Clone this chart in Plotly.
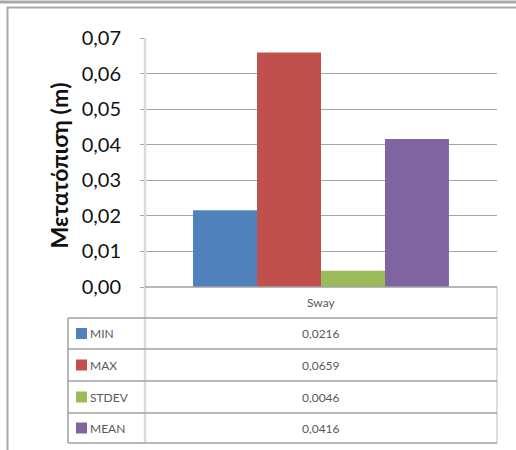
import plotly.graph_objects as go

categories = ["Sway"]
series_names = ["MIN", "MAX", "STDEV", "MEAN"]
series_values = [0.0216, 0.0659, 0.0046, 0.0416]
series_colors = ["#4F81BD", "#C0504D", "#9BBB59", "#8064A2"]
tick_vals = [0.00, 0.01, 0.02, 0.03, 0.04, 0.05, 0.06, 0.07]
tick_text = ["0,00", "0,01", "0,02", "0,03", "0,04", "0,05", "0,06", "0,07"]
y_title = "Μετατόπιση (m)"

W, H = 516, 450
L, R, T, B = 145, 497, 38, 287  # plot area pixels

fig = go.Figure()
for name, val, col in zip(series_names, series_values, series_colors):
    fig.add_trace(go.Bar(x=categories, y=[val], name=name, marker=dict(color=col, line=dict(width=0)),
                         showlegend=False, cliponaxis=False))

# convert figure pixel positions to paper (plot-area) coordinates
def px(x):
    return (x - L) / (R - L)

def py(y):
    return (B - y) / (B - T)

shapes = []
def line(x0, y0, x1, y1, color, width):
    shapes.append(dict(type="line", xref="paper", yref="paper",
                       x0=px(x0), y0=py(y0), x1=px(x1), y1=py(y1),
                       line=dict(color=color, width=width), layer="above"))

# outer page borders
line(0, 2, W, 2, "#A8A8A8", 3)
line(7, 7.5, W, 7.5, "#A8A8A8", 2)
line(7.5, 7, 7.5, H, "#A8A8A8", 2)

# table geometry
row_tops = [287, 318, 349, 381, 413, 443]
tab_left = 68
line(R, 287, R, 443, "#D0D0D0", 1.5)
line(L, T, L, 443, "#D9D9D9", 2.5)
for yy in row_tops[1:]:
    line(tab_left, yy, R, yy, "#A0A0A0", 1.5)
line(tab_left, 318, tab_left, 443, "#A0A0A0", 1.5)
line(L, B, R, B, "#A0A0A0", 1.5)

annotations = []
annotations.append(dict(text=categories[0], xref="paper", yref="paper",
                        x=px((L + R) / 2), y=py((287 + 318) / 2), showarrow=False,
                        font=dict(family="Lato", size=12, color="#595959"),
                        xanchor="center", yanchor="middle"))
for i, (name, val, col) in enumerate(zip(series_names, series_values, series_colors)):
    y0, y1 = row_tops[i + 1], row_tops[i + 2]
    yc = (y0 + y1) / 2
    shapes.append(dict(type="rect", xref="paper", yref="paper",
                       x0=px(76), x1=px(87), y0=py(yc - 5.5), y1=py(yc + 5.5),
                       fillcolor=col, line=dict(width=0), layer="above"))
    annotations.append(dict(text=name, xref="paper", yref="paper", x=px(88), y=py(yc),
                            showarrow=False, xanchor="left", yanchor="middle",
                            font=dict(family="Lato", size=12, color="#595959")))
    annotations.append(dict(text=f"{val:.4f}".replace(".", ","), xref="paper", yref="paper",
                            x=px((L + R) / 2), y=py(yc), showarrow=False,
                            xanchor="center", yanchor="middle",
                            font=dict(family="Lato", size=12, color="#595959")))

annotations.append(dict(text="<b>" + y_title + "</b>", xref="paper", yref="paper",
                        x=px(58), y=py((T + B) / 2 + 3), showarrow=False, textangle=-90,
                        xanchor="center", yanchor="middle",
                        font=dict(family="Lato", size=23, color="#111111")))

fig.update_layout(
    width=W, height=H,
    margin=dict(l=L, r=W - R, t=T, b=H - B, pad=0),
    paper_bgcolor="white", plot_bgcolor="white",
    barmode="group", bargap=0.273, bargroupgap=0,
    xaxis=dict(showticklabels=False, showgrid=False, zeroline=False,
               showline=False, fixedrange=True),
    yaxis=dict(range=[0, 0.07], tickvals=tick_vals, ticktext=tick_text,
               showgrid=True, gridcolor="#A6A6A6", gridwidth=1,
               zeroline=False, showline=False, ticks="outside", ticklen=4,
               tickcolor="#A6A6A6", ticklabelstandoff=15,
               tickfont=dict(family="Lato", size=20, color="#111111")),
    shapes=shapes, annotations=annotations,
)

fig.write_html("out.html", config={"displayModeBar": False},
               post_script="document.body.style.margin='0';")
